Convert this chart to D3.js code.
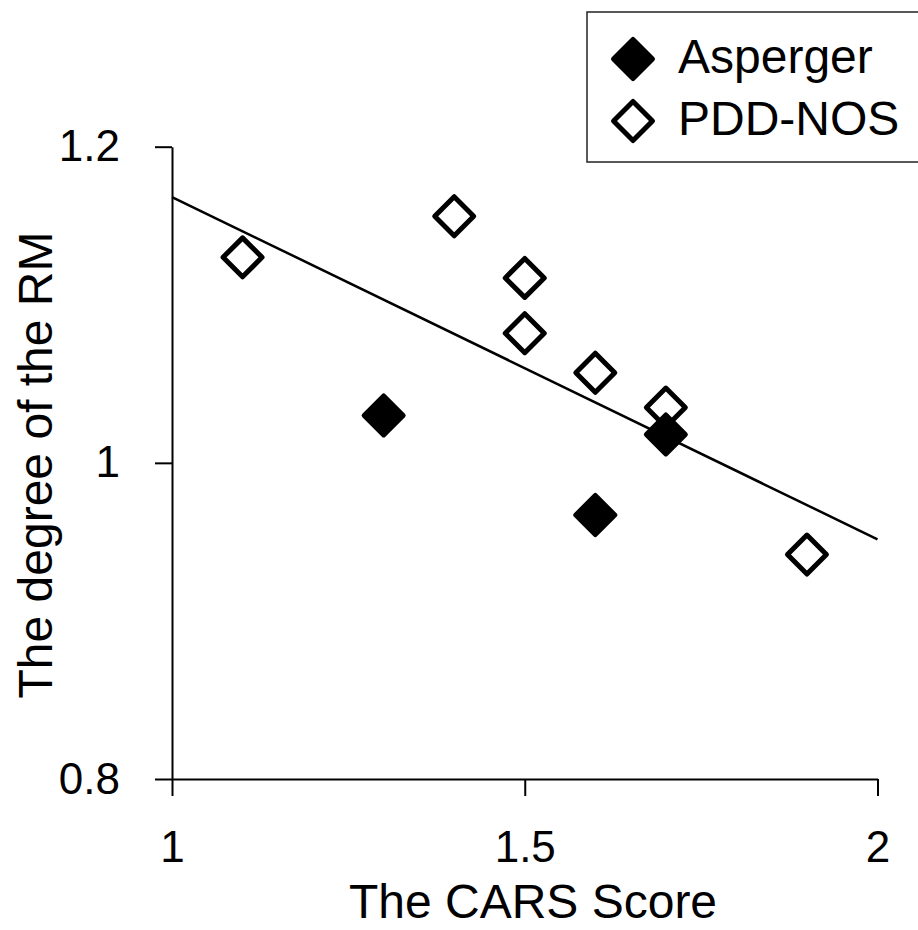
<!DOCTYPE html>
<html>
<head>
<meta charset="utf-8">
<script src="https://cdn.jsdelivr.net/npm/d3@7"></script>
<style>
  body { margin: 0; background: #fff; }
  svg text { font-family: "Liberation Sans", Arial, sans-serif; fill: #000; }
</style>
</head>
<body>
<script>
// data
var seriesNames = ["Asperger", "PDD-NOS"];
var aspergerX = [1.3, 1.6, 1.7];
var aspergerY = [1.030, 0.967, 1.018];
var pddX = [1.1, 1.4, 1.5, 1.5, 1.6, 1.7, 1.9];
var pddY = [1.130, 1.156, 1.117, 1.082, 1.057, 1.035, 0.942];
var xTicks = [1, 1.5, 2];
var yTicks = [0.8, 1, 1.2];
var xTitle = "The CARS Score";
var yTitle = "The degree of the RM";

var width = 918, height = 930;

var svg = d3.select("body").append("svg")
    .attr("width", width)
    .attr("height", height);

var x = d3.scaleLinear().domain([1, 2]).range([172, 877.5]);
var y = d3.scaleLinear().domain([0.8, 1.2]).range([779, 146.7]);

// axes
var xAxis = d3.axisBottom(x)
    .tickValues(xTicks)
    .tickFormat(d3.format("~g"))
    .tickSize(17)
    .tickSizeOuter(0)
    .tickPadding(35);

var yAxis = d3.axisLeft(y)
    .tickValues(yTicks)
    .tickFormat(d3.format("~g"))
    .tickSize(17)
    .tickSizeOuter(0)
    .tickPadding(35);

var gx = svg.append("g")
    .attr("transform", "translate(0," + y(0.8) + ")")
    .call(xAxis);

var gy = svg.append("g")
    .attr("transform", "translate(" + x(1) + ",0)")
    .call(yAxis);

[gx, gy].forEach(function(g){
  g.selectAll("path, line").attr("stroke", "#000").attr("stroke-width", 2);
  g.selectAll("text").style("font-size", "44px").attr("fill", "#000");
});

// axis titles
svg.append("text")
    .attr("x", 533)
    .attr("y", 918)
    .attr("text-anchor", "middle")
    .style("font-size", "48px")
    .text(xTitle);

svg.append("text")
    .attr("transform", "translate(52,465) rotate(-90)")
    .attr("text-anchor", "middle")
    .style("font-size", "48px")
    .text(yTitle);

// least squares line over all points
var allX = aspergerX.concat(pddX);
var allY = aspergerY.concat(pddY);
var mx = d3.mean(allX), my = d3.mean(allY);
var sxy = d3.sum(allX, function(v, i){ return (v - mx) * (allY[i] - my); });
var sxx = d3.sum(allX, function(v){ return (v - mx) * (v - mx); });
var slope = sxy / sxx;
var intercept = my - slope * mx;

var lineGen = d3.line()
    .x(function(d){ return x(d); })
    .y(function(d){ return y(intercept + slope * d); });

svg.append("path")
    .datum(x.domain())
    .attr("d", lineGen)
    .attr("fill", "none")
    .attr("stroke", "#000")
    .attr("stroke-width", 2.5);

// diamond markers
var diamond = d3.symbol().type(d3.symbolSquare).size(760);

function drawPoints(xs, ys, filled){
  svg.append("g").selectAll("path")
    .data(xs.map(function(v, i){ return [v, ys[i]]; }))
    .enter()
    .append("path")
    .attr("d", diamond)
    .attr("transform", function(d){
      return "translate(" + x(d[0]) + "," + y(d[1]) + ") rotate(45)";
    })
    .attr("fill", filled ? "#000" : "#fff")
    .attr("stroke", "#000")
    .attr("stroke-width", 5)
    .attr("stroke-linejoin", "round");
}

drawPoints(pddX, pddY, false);
drawPoints(aspergerX, aspergerY, true);

// legend
var legend = svg.append("g");

legend.append("rect")
    .attr("x", 587)
    .attr("y", 12)
    .attr("width", 400)
    .attr("height", 150)
    .attr("fill", "#fff")
    .attr("stroke", "#222")
    .attr("stroke-width", 1.5);

seriesNames.forEach(function(name, i){
  var cy = i === 0 ? 59 : 121;
  legend.append("path")
      .attr("d", diamond)
      .attr("transform", "translate(633," + cy + ") rotate(45)")
      .attr("fill", i === 0 ? "#000" : "#fff")
      .attr("stroke", "#000")
      .attr("stroke-width", 5)
      .attr("stroke-linejoin", "round");
  legend.append("text")
      .attr("x", 678)
      .attr("y", cy + 14)
      .style("font-size", "48px")
      .text(name);
});
</script>
</body>
</html>
